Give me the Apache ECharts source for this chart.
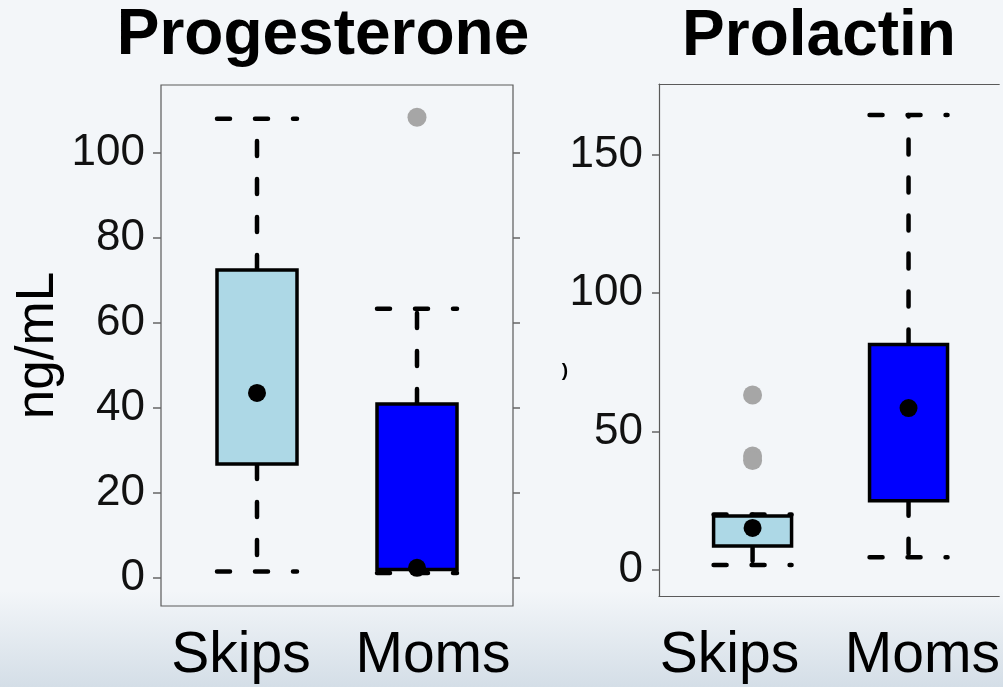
<!DOCTYPE html>
<html>
<head>
<meta charset="utf-8">
<script src="https://cdn.jsdelivr.net/npm/echarts@6/dist/echarts.min.js"></script>
<style>
  html, body { margin: 0; padding: 0; }
  body { width: 1003px; height: 687px; overflow: hidden;
    background: linear-gradient(to bottom, #f3f6f9 0%, #f3f6f9 86%, #d4dee7 100%); }
  #chart { width: 1003px; height: 687px; }
</style>
</head>
<body>
<div id="chart"></div>
<script>
// ---- data ----
const categories = ['Skips', 'Moms'];
const titles = ['Progesterone', 'Prolactin'];
const yAxisName = 'ng/mL';
// [low whisker, Q1, median, Q3, high whisker]
const progSkips = [1.5, 26.8, 43.5, 72.4, 107.9];
const progMoms  = [1.2, 2.0, 2.4, 40.9, 63.3];
const progOutliers = [[2, 108.3]];
const prolSkips = [1.8, 8.7, 15.2, 19.5, 20.1];
const prolMoms  = [4.6, 25.0, 58.5, 81.5, 164.4];
const prolOutliers = [[1, 63.2], [1, 41.2], [1, 39.6]];
const progTicks = [0, 20, 40, 60, 80, 100];
const prolTicks = [0, 50, 100, 150];
const strayMark = ')';

// ---- styling ----
const FONT = "'Liberation Sans', Arial, Helvetica, sans-serif";
const BOX_WIDTH = 0.5;
const fillColors = ['#add8e6', '#0000ff'];
const frameLine = { show: true, onZero: false, lineStyle: { color: '#5a5a5a', width: 1.2 } };

function renderBox(params, api) {
  const x = api.value(0);
  const c = v => api.coord([x, v]);
  const pLow = c(api.value(1)), pQ1 = c(api.value(2)), pQ3 = c(api.value(4)), pHigh = c(api.value(5));
  const half = api.size([BOX_WIDTH / 2, 0])[0];
  const cx = pLow[0];
  const whisk = { stroke: '#000', lineWidth: 4.5, lineDash: [15, 23], lineCap: 'round', fill: null };
  const cap = { stroke: '#000', lineWidth: 4.5, lineDash: [13, 25], lineCap: 'round', fill: null };
  return {
    type: 'group',
    children: [
      { type: 'line', shape: { x1: cx, y1: pQ3[1], x2: cx, y2: pHigh[1] }, style: whisk },
      { type: 'line', shape: { x1: cx, y1: pQ1[1], x2: cx, y2: pLow[1] }, style: whisk },
      { type: 'rect', shape: { x: cx - half, y: pQ3[1], width: 2 * half, height: pQ1[1] - pQ3[1] },
        style: { fill: api.visual('color'), stroke: '#000', lineWidth: 3.5 } },
      { type: 'line', shape: { x1: cx - half, y1: pHigh[1], x2: cx + half, y2: pHigh[1] }, style: cap },
      { type: 'line', shape: { x1: cx - half, y1: pLow[1], x2: cx + half, y2: pLow[1] }, style: cap }
    ]
  };
}

function boxData(list) {
  return list.map((s, i) => ({ value: [i + 1].concat(s), itemStyle: { color: fillColors[i] } }));
}
function medianData(list) {
  return list.map((s, i) => [i + 1, s[2]]);
}

const tickStyle = { color: '#666', width: 1.5 };
const tickLabel = { fontFamily: FONT, fontSize: 44, color: '#111', margin: 16 };
function xAxisFor(gridIndex, max, labelPos, margin, line) {
  return {
    gridIndex, type: 'value', min: 0.4, max,
    axisLine: line ? frameLine : { show: false }, axisTick: { show: false }, splitLine: { show: false },
    axisLabel: {
      customValues: labelPos, margin,
      formatter: v => categories[Math.round(v) - 1],
      fontFamily: FONT, fontSize: 57, color: '#000', verticalAlign: 'top'
    }
  };
}

const option = {
  backgroundColor: 'transparent',
  animation: false,
  title: [
    { text: titles[0], left: 323, top: 4, padding: 0, textAlign: 'center',
      textStyle: { fontFamily: FONT, fontWeight: 'bold', fontSize: 64, color: '#000' } },
    { text: titles[1], left: 819, top: 5, padding: 0, textAlign: 'center',
      textStyle: { fontFamily: FONT, fontWeight: 'bold', fontSize: 64, color: '#000' } }
  ],
  grid: [
    { left: 161, top: 85, width: 352, height: 521, show: true, borderColor: '#5a5a5a', borderWidth: 1.2, backgroundColor: 'transparent' },
    { left: 659, top: 84, width: 344, height: 512, show: false }
  ],
  xAxis: [
    xAxisFor(0, 2.6, [0.9, 2.1], 22, false),
    xAxisFor(1, 2.5814, [0.852, 2.089], 32, true),
    { gridIndex: 1, type: 'value', position: 'top', min: 0.4, max: 2.5814,
      axisLine: frameLine, axisTick: { show: false }, axisLabel: { show: false }, splitLine: { show: false } }
  ],
  yAxis: [
    { gridIndex: 0, type: 'value', min: -6.58, max: 115.86,
      name: yAxisName, nameLocation: 'middle', nameRotate: 90, nameGap: 96,
      nameTextStyle: { fontFamily: FONT, fontSize: 53, color: '#000' },
      axisLine: { show: false }, splitLine: { show: false },
      axisTick: { show: true, customValues: progTicks, length: 8, lineStyle: tickStyle },
      axisLabel: Object.assign({ customValues: progTicks }, tickLabel) },
    { gridIndex: 0, type: 'value', min: -6.58, max: 115.86, position: 'right',
      axisLine: { show: false }, splitLine: { show: false },
      axisTick: { show: true, customValues: progTicks, length: 7, lineStyle: tickStyle },
      axisLabel: { show: false } },
    { gridIndex: 1, type: 'value', min: -9.39, max: 175.6,
      axisLine: frameLine, splitLine: { show: false },
      axisTick: { show: true, customValues: prolTicks, length: 7, lineStyle: tickStyle },
      axisLabel: Object.assign({ customValues: prolTicks }, tickLabel) }
  ],
  series: [
    { type: 'custom', xAxisIndex: 0, yAxisIndex: 0, renderItem: renderBox,
      encode: { x: 0, y: [1, 2, 3, 4, 5] }, data: boxData([progSkips, progMoms]), z: 2 },
    { type: 'custom', xAxisIndex: 1, yAxisIndex: 2, renderItem: renderBox,
      encode: { x: 0, y: [1, 2, 3, 4, 5] }, data: boxData([prolSkips, prolMoms]), z: 2 },
    { type: 'scatter', xAxisIndex: 0, yAxisIndex: 0, symbolSize: 18, itemStyle: { color: '#000', opacity: 1 },
      data: medianData([progSkips, progMoms]), z: 4 },
    { type: 'scatter', xAxisIndex: 1, yAxisIndex: 2, symbolSize: 18, itemStyle: { color: '#000', opacity: 1 },
      data: medianData([prolSkips, prolMoms]), z: 4 },
    { type: 'scatter', xAxisIndex: 0, yAxisIndex: 0, symbolSize: 19, itemStyle: { color: '#a6a6a6', opacity: 1 },
      data: progOutliers, z: 3 },
    { type: 'scatter', xAxisIndex: 1, yAxisIndex: 2, symbolSize: 19, itemStyle: { color: '#a6a6a6', opacity: 1 },
      data: prolOutliers, z: 3 }
  ],
  graphic: [
    { type: 'text', x: 565, y: 371, style: { text: strayMark, font: 'bold 19px ' + FONT, fill: '#000', align: 'center', verticalAlign: 'middle' } }
  ]
};

const chart = echarts.init(document.getElementById('chart'), null, { renderer: 'canvas' });
chart.setOption(option);
</script>
</body>
</html>
